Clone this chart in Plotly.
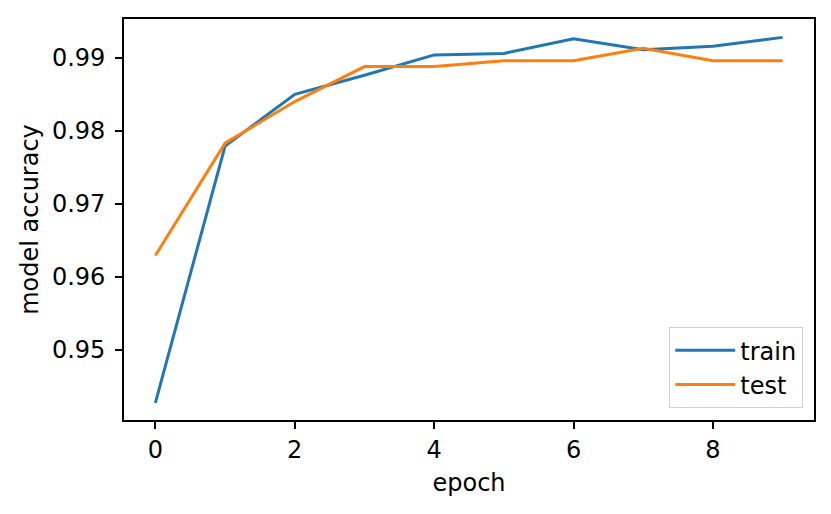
import plotly.graph_objects as go

epochs = list(range(10))
train_acc = [0.9427, 0.9779, 0.9850, 0.9876, 0.9904, 0.9906, 0.9926, 0.9911, 0.9916, 0.9928]
test_acc = [0.9629, 0.9783, 0.9840, 0.9888, 0.9888, 0.9896, 0.9896, 0.9913, 0.9896, 0.9896]
x_ticks = [0, 2, 4, 6, 8]
y_ticks = [0.95, 0.96, 0.97, 0.98, 0.99]

fig = go.Figure()
fig.add_trace(go.Scatter(x=epochs, y=train_acc, mode="lines", name="train",
                         line=dict(color="#1f77b4", width=3)))
fig.add_trace(go.Scatter(x=epochs, y=test_acc, mode="lines", name="test",
                         line=dict(color="#ff7f0e", width=3)))

font = dict(family="DejaVu Sans", size=24, color="black")
axis_common = dict(showgrid=False, zeroline=False, showline=True, linecolor="black",
                   linewidth=1.6, mirror=True, ticks="outside", ticklen=7, tickwidth=1.6,
                   tickcolor="black", tickfont=font)

fig.update_layout(
    width=823, height=506,
    margin=dict(l=116, r=17, t=9, b=94),
    plot_bgcolor="white", paper_bgcolor="white",
    font=font,
    xaxis=dict(range=[-0.45, 9.45], tickvals=x_ticks, ticktext=[str(v) for v in x_ticks],
               title=dict(text="epoch", font=font, standoff=12), **axis_common),
    yaxis=dict(range=[0.94034, 0.99532], tickvals=y_ticks,
               ticktext=["%.2f" % v for v in y_ticks], ticklabelstandoff=5,
               title=dict(text="model accuracy", font=font, standoff=7), **axis_common),
    legend=dict(x=0.984, y=0.03, xanchor="right", yanchor="bottom",
                bordercolor="#d0d0d0", borderwidth=1.3, bgcolor="rgba(255,255,255,0.8)",
                font=dict(family="DejaVu Sans", size=24, color="black"),
                itemwidth=60, tracegroupgap=4),
    showlegend=True,
)

fig.write_html("out.html")
